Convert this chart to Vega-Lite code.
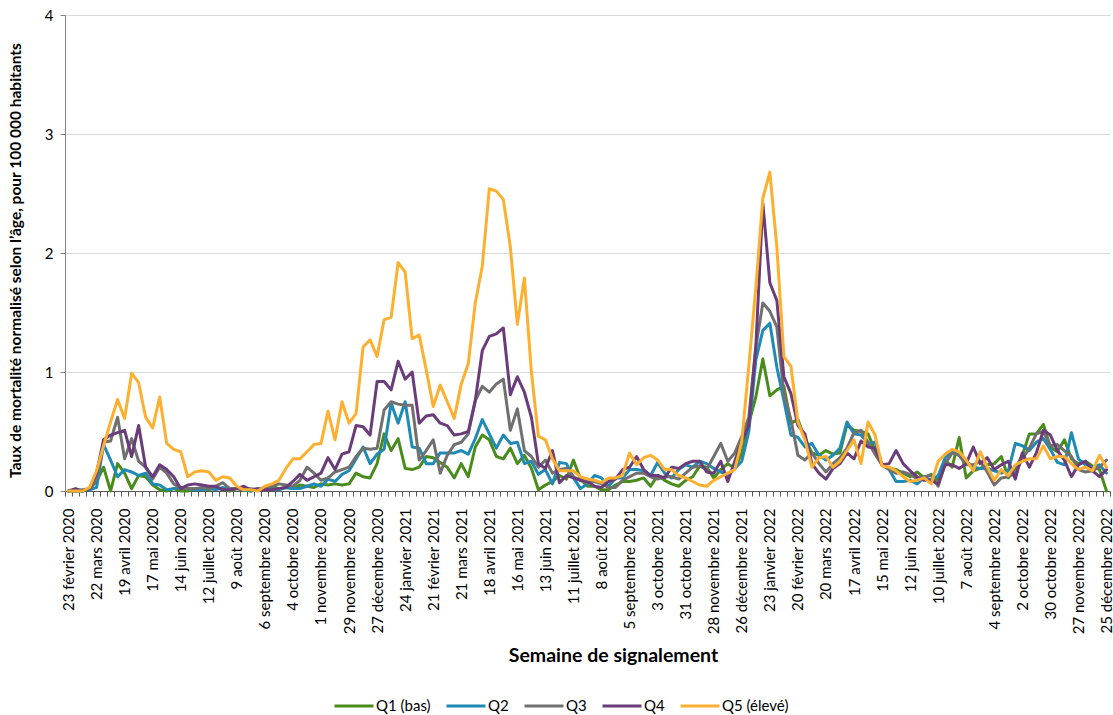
{
  "$schema": "https://vega.github.io/schema/vega-lite/v6.json",
  "width": 1045,
  "height": 476,
  "autosize": {"type": "none"},
  "padding": {"left": 65, "top": 15, "right": 3, "bottom": 224},
  "background": "white",
  "config": {"view": {"stroke": null}, "font": "Lato"},
  "data": {
    "values": [
      {"semaine": "2020-02-23", "Q1 (bas)": 0, "Q2": 0, "Q3": 0, "Q4": 0, "Q5 (élevé)": 0},
      {"semaine": "2020-03-01", "Q1 (bas)": 0, "Q2": 0, "Q3": 0, "Q4": 0.02, "Q5 (élevé)": 0},
      {"semaine": "2020-03-08", "Q1 (bas)": 0, "Q2": 0, "Q3": 0.01, "Q4": 0, "Q5 (élevé)": 0},
      {"semaine": "2020-03-15", "Q1 (bas)": 0.02, "Q2": 0.01, "Q3": 0.02, "Q4": 0.02, "Q5 (élevé)": 0.03},
      {"semaine": "2020-03-22", "Q1 (bas)": 0.08, "Q2": 0.03, "Q3": 0.10, "Q4": 0.15, "Q5 (élevé)": 0.17},
      {"semaine": "2020-03-29", "Q1 (bas)": 0.20, "Q2": 0.39, "Q3": 0.41, "Q4": 0.43, "Q5 (élevé)": 0.38},
      {"semaine": "2020-04-05", "Q1 (bas)": 0.0, "Q2": 0.26, "Q3": 0.42, "Q4": 0.47, "Q5 (élevé)": 0.58},
      {"semaine": "2020-04-12", "Q1 (bas)": 0.23, "Q2": 0.12, "Q3": 0.62, "Q4": 0.49, "Q5 (élevé)": 0.77},
      {"semaine": "2020-04-19", "Q1 (bas)": 0.15, "Q2": 0.18, "Q3": 0.27, "Q4": 0.51, "Q5 (élevé)": 0.61},
      {"semaine": "2020-04-26", "Q1 (bas)": 0.02, "Q2": 0.16, "Q3": 0.44, "Q4": 0.29, "Q5 (élevé)": 0.99},
      {"semaine": "2020-05-03", "Q1 (bas)": 0.13, "Q2": 0.13, "Q3": 0.25, "Q4": 0.55, "Q5 (élevé)": 0.91},
      {"semaine": "2020-05-10", "Q1 (bas)": 0.12, "Q2": 0.15, "Q3": 0.20, "Q4": 0.20, "Q5 (élevé)": 0.62},
      {"semaine": "2020-05-17", "Q1 (bas)": 0.05, "Q2": 0.06, "Q3": 0.10, "Q4": 0.12, "Q5 (élevé)": 0.53},
      {"semaine": "2020-05-24", "Q1 (bas)": 0.01, "Q2": 0.05, "Q3": 0.20, "Q4": 0.22, "Q5 (élevé)": 0.79},
      {"semaine": "2020-05-31", "Q1 (bas)": 0, "Q2": 0.01, "Q3": 0.15, "Q4": 0.18, "Q5 (élevé)": 0.40},
      {"semaine": "2020-06-07", "Q1 (bas)": 0.02, "Q2": 0.02, "Q3": 0.06, "Q4": 0.12, "Q5 (élevé)": 0.35},
      {"semaine": "2020-06-14", "Q1 (bas)": 0, "Q2": 0.03, "Q3": 0.02, "Q4": 0.02, "Q5 (élevé)": 0.33},
      {"semaine": "2020-06-21", "Q1 (bas)": 0, "Q2": 0.02, "Q3": 0.02, "Q4": 0.05, "Q5 (élevé)": 0.12},
      {"semaine": "2020-06-28", "Q1 (bas)": 0.02, "Q2": 0.01, "Q3": 0.02, "Q4": 0.06, "Q5 (élevé)": 0.16},
      {"semaine": "2020-07-05", "Q1 (bas)": 0.02, "Q2": 0.01, "Q3": 0.03, "Q4": 0.05, "Q5 (élevé)": 0.17},
      {"semaine": "2020-07-12", "Q1 (bas)": 0.01, "Q2": 0.02, "Q3": 0.02, "Q4": 0.04, "Q5 (élevé)": 0.16},
      {"semaine": "2020-07-19", "Q1 (bas)": 0.03, "Q2": 0.01, "Q3": 0.04, "Q4": 0.04, "Q5 (élevé)": 0.09},
      {"semaine": "2020-07-26", "Q1 (bas)": 0.01, "Q2": 0.03, "Q3": 0.07, "Q4": 0.01, "Q5 (élevé)": 0.12},
      {"semaine": "2020-08-02", "Q1 (bas)": 0, "Q2": 0.02, "Q3": 0.02, "Q4": 0.01, "Q5 (élevé)": 0.11},
      {"semaine": "2020-08-09", "Q1 (bas)": 0.02, "Q2": 0.02, "Q3": 0.02, "Q4": 0.02, "Q5 (élevé)": 0.04},
      {"semaine": "2020-08-16", "Q1 (bas)": 0.01, "Q2": 0.01, "Q3": 0.01, "Q4": 0.04, "Q5 (élevé)": 0.01},
      {"semaine": "2020-08-23", "Q1 (bas)": 0, "Q2": 0, "Q3": 0.02, "Q4": 0.01, "Q5 (élevé)": 0.01},
      {"semaine": "2020-08-30", "Q1 (bas)": 0.01, "Q2": 0.02, "Q3": 0.01, "Q4": 0.02, "Q5 (élevé)": 0.0},
      {"semaine": "2020-09-06", "Q1 (bas)": 0.03, "Q2": 0.01, "Q3": 0.03, "Q4": 0.01, "Q5 (élevé)": 0.04},
      {"semaine": "2020-09-13", "Q1 (bas)": 0.04, "Q2": 0.02, "Q3": 0.04, "Q4": 0.01, "Q5 (élevé)": 0.06},
      {"semaine": "2020-09-20", "Q1 (bas)": 0.02, "Q2": 0.01, "Q3": 0.06, "Q4": 0.02, "Q5 (élevé)": 0.09},
      {"semaine": "2020-09-27", "Q1 (bas)": 0.03, "Q2": 0.03, "Q3": 0.05, "Q4": 0.03, "Q5 (élevé)": 0.19},
      {"semaine": "2020-10-04", "Q1 (bas)": 0.02, "Q2": 0.02, "Q3": 0.04, "Q4": 0.08, "Q5 (élevé)": 0.27},
      {"semaine": "2020-10-11", "Q1 (bas)": 0.05, "Q2": 0.02, "Q3": 0.09, "Q4": 0.14, "Q5 (élevé)": 0.27},
      {"semaine": "2020-10-18", "Q1 (bas)": 0.04, "Q2": 0.04, "Q3": 0.20, "Q4": 0.09, "Q5 (élevé)": 0.33},
      {"semaine": "2020-10-25", "Q1 (bas)": 0.03, "Q2": 0.06, "Q3": 0.15, "Q4": 0.12, "Q5 (élevé)": 0.39},
      {"semaine": "2020-11-01", "Q1 (bas)": 0.06, "Q2": 0.04, "Q3": 0.09, "Q4": 0.15, "Q5 (élevé)": 0.40},
      {"semaine": "2020-11-08", "Q1 (bas)": 0.05, "Q2": 0.10, "Q3": 0.11, "Q4": 0.28, "Q5 (élevé)": 0.67},
      {"semaine": "2020-11-15", "Q1 (bas)": 0.06, "Q2": 0.08, "Q3": 0.16, "Q4": 0.18, "Q5 (élevé)": 0.43},
      {"semaine": "2020-11-22", "Q1 (bas)": 0.05, "Q2": 0.14, "Q3": 0.18, "Q4": 0.31, "Q5 (élevé)": 0.75},
      {"semaine": "2020-11-29", "Q1 (bas)": 0.06, "Q2": 0.17, "Q3": 0.20, "Q4": 0.33, "Q5 (élevé)": 0.57},
      {"semaine": "2020-12-06", "Q1 (bas)": 0.15, "Q2": 0.27, "Q3": 0.29, "Q4": 0.55, "Q5 (élevé)": 0.65},
      {"semaine": "2020-12-13", "Q1 (bas)": 0.12, "Q2": 0.37, "Q3": 0.36, "Q4": 0.54, "Q5 (élevé)": 1.21},
      {"semaine": "2020-12-20", "Q1 (bas)": 0.11, "Q2": 0.23, "Q3": 0.35, "Q4": 0.47, "Q5 (élevé)": 1.27},
      {"semaine": "2020-12-27", "Q1 (bas)": 0.23, "Q2": 0.31, "Q3": 0.36, "Q4": 0.92, "Q5 (élevé)": 1.13},
      {"semaine": "2021-01-03", "Q1 (bas)": 0.48, "Q2": 0.35, "Q3": 0.68, "Q4": 0.92, "Q5 (élevé)": 1.44},
      {"semaine": "2021-01-10", "Q1 (bas)": 0.34, "Q2": 0.74, "Q3": 0.75, "Q4": 0.85, "Q5 (élevé)": 1.46},
      {"semaine": "2021-01-17", "Q1 (bas)": 0.44, "Q2": 0.57, "Q3": 0.73, "Q4": 1.09, "Q5 (élevé)": 1.92},
      {"semaine": "2021-01-24", "Q1 (bas)": 0.19, "Q2": 0.75, "Q3": 0.72, "Q4": 0.94, "Q5 (élevé)": 1.84},
      {"semaine": "2021-01-31", "Q1 (bas)": 0.18, "Q2": 0.37, "Q3": 0.72, "Q4": 1.00, "Q5 (élevé)": 1.28},
      {"semaine": "2021-02-07", "Q1 (bas)": 0.20, "Q2": 0.36, "Q3": 0.26, "Q4": 0.57, "Q5 (élevé)": 1.31},
      {"semaine": "2021-02-14", "Q1 (bas)": 0.29, "Q2": 0.23, "Q3": 0.34, "Q4": 0.63, "Q5 (élevé)": 1.02},
      {"semaine": "2021-02-21", "Q1 (bas)": 0.28, "Q2": 0.23, "Q3": 0.43, "Q4": 0.64, "Q5 (élevé)": 0.71},
      {"semaine": "2021-02-28", "Q1 (bas)": 0.24, "Q2": 0.32, "Q3": 0.15, "Q4": 0.57, "Q5 (élevé)": 0.89},
      {"semaine": "2021-03-07", "Q1 (bas)": 0.20, "Q2": 0.32, "Q3": 0.30, "Q4": 0.55, "Q5 (élevé)": 0.75},
      {"semaine": "2021-03-14", "Q1 (bas)": 0.11, "Q2": 0.32, "Q3": 0.39, "Q4": 0.47, "Q5 (élevé)": 0.61},
      {"semaine": "2021-03-21", "Q1 (bas)": 0.23, "Q2": 0.34, "Q3": 0.41, "Q4": 0.48, "Q5 (élevé)": 0.90},
      {"semaine": "2021-03-28", "Q1 (bas)": 0.12, "Q2": 0.31, "Q3": 0.48, "Q4": 0.50, "Q5 (élevé)": 1.07},
      {"semaine": "2021-04-04", "Q1 (bas)": 0.37, "Q2": 0.44, "Q3": 0.76, "Q4": 0.76, "Q5 (élevé)": 1.58},
      {"semaine": "2021-04-11", "Q1 (bas)": 0.47, "Q2": 0.60, "Q3": 0.88, "Q4": 1.18, "Q5 (élevé)": 1.89},
      {"semaine": "2021-04-18", "Q1 (bas)": 0.43, "Q2": 0.48, "Q3": 0.83, "Q4": 1.30, "Q5 (élevé)": 2.54},
      {"semaine": "2021-04-25", "Q1 (bas)": 0.29, "Q2": 0.36, "Q3": 0.90, "Q4": 1.32, "Q5 (élevé)": 2.52},
      {"semaine": "2021-05-02", "Q1 (bas)": 0.27, "Q2": 0.47, "Q3": 0.94, "Q4": 1.37, "Q5 (élevé)": 2.45},
      {"semaine": "2021-05-09", "Q1 (bas)": 0.36, "Q2": 0.40, "Q3": 0.51, "Q4": 0.81, "Q5 (élevé)": 2.05},
      {"semaine": "2021-05-16", "Q1 (bas)": 0.23, "Q2": 0.41, "Q3": 0.69, "Q4": 0.96, "Q5 (élevé)": 1.40},
      {"semaine": "2021-05-23", "Q1 (bas)": 0.30, "Q2": 0.23, "Q3": 0.34, "Q4": 0.83, "Q5 (élevé)": 1.79},
      {"semaine": "2021-05-30", "Q1 (bas)": 0.19, "Q2": 0.25, "Q3": 0.29, "Q4": 0.62, "Q5 (élevé)": 1.00},
      {"semaine": "2021-06-06", "Q1 (bas)": 0.01, "Q2": 0.14, "Q3": 0.20, "Q4": 0.23, "Q5 (élevé)": 0.46},
      {"semaine": "2021-06-13", "Q1 (bas)": 0.05, "Q2": 0.18, "Q3": 0.26, "Q4": 0.19, "Q5 (élevé)": 0.43},
      {"semaine": "2021-06-20", "Q1 (bas)": 0.08, "Q2": 0.06, "Q3": 0.15, "Q4": 0.34, "Q5 (élevé)": 0.27},
      {"semaine": "2021-06-27", "Q1 (bas)": 0.13, "Q2": 0.24, "Q3": 0.18, "Q4": 0.07, "Q5 (élevé)": 0.17},
      {"semaine": "2021-07-04", "Q1 (bas)": 0.10, "Q2": 0.23, "Q3": 0.19, "Q4": 0.13, "Q5 (élevé)": 0.17},
      {"semaine": "2021-07-11", "Q1 (bas)": 0.26, "Q2": 0.11, "Q3": 0.12, "Q4": 0.11, "Q5 (élevé)": 0.17},
      {"semaine": "2021-07-18", "Q1 (bas)": 0.10, "Q2": 0.02, "Q3": 0.09, "Q4": 0.09, "Q5 (élevé)": 0.12},
      {"semaine": "2021-07-25", "Q1 (bas)": 0.04, "Q2": 0.06, "Q3": 0.07, "Q4": 0.08, "Q5 (élevé)": 0.10},
      {"semaine": "2021-08-01", "Q1 (bas)": 0.04, "Q2": 0.13, "Q3": 0.08, "Q4": 0.04, "Q5 (élevé)": 0.09},
      {"semaine": "2021-08-08", "Q1 (bas)": 0.01, "Q2": 0.11, "Q3": 0.06, "Q4": 0.03, "Q5 (élevé)": 0.07},
      {"semaine": "2021-08-15", "Q1 (bas)": 0.01, "Q2": 0.04, "Q3": 0.03, "Q4": 0.08, "Q5 (élevé)": 0.11},
      {"semaine": "2021-08-22", "Q1 (bas)": 0.05, "Q2": 0.11, "Q3": 0.03, "Q4": 0.10, "Q5 (élevé)": 0.11},
      {"semaine": "2021-08-29", "Q1 (bas)": 0.08, "Q2": 0.11, "Q3": 0.09, "Q4": 0.18, "Q5 (élevé)": 0.13},
      {"semaine": "2021-09-05", "Q1 (bas)": 0.08, "Q2": 0.18, "Q3": 0.12, "Q4": 0.20, "Q5 (élevé)": 0.32},
      {"semaine": "2021-09-12", "Q1 (bas)": 0.09, "Q2": 0.18, "Q3": 0.15, "Q4": 0.29, "Q5 (élevé)": 0.22},
      {"semaine": "2021-09-19", "Q1 (bas)": 0.11, "Q2": 0.17, "Q3": 0.15, "Q4": 0.18, "Q5 (élevé)": 0.28},
      {"semaine": "2021-09-26", "Q1 (bas)": 0.04, "Q2": 0.13, "Q3": 0.12, "Q4": 0.13, "Q5 (élevé)": 0.30},
      {"semaine": "2021-10-03", "Q1 (bas)": 0.13, "Q2": 0.24, "Q3": 0.10, "Q4": 0.13, "Q5 (élevé)": 0.26},
      {"semaine": "2021-10-10", "Q1 (bas)": 0.09, "Q2": 0.15, "Q3": 0.12, "Q4": 0.11, "Q5 (élevé)": 0.18},
      {"semaine": "2021-10-17", "Q1 (bas)": 0.06, "Q2": 0.11, "Q3": 0.12, "Q4": 0.20, "Q5 (élevé)": 0.18},
      {"semaine": "2021-10-24", "Q1 (bas)": 0.04, "Q2": 0.18, "Q3": 0.10, "Q4": 0.19, "Q5 (élevé)": 0.13},
      {"semaine": "2021-10-31", "Q1 (bas)": 0.09, "Q2": 0.22, "Q3": 0.15, "Q4": 0.23, "Q5 (élevé)": 0.11},
      {"semaine": "2021-11-07", "Q1 (bas)": 0.12, "Q2": 0.20, "Q3": 0.20, "Q4": 0.25, "Q5 (élevé)": 0.08},
      {"semaine": "2021-11-14", "Q1 (bas)": 0.21, "Q2": 0.25, "Q3": 0.21, "Q4": 0.25, "Q5 (élevé)": 0.05},
      {"semaine": "2021-11-21", "Q1 (bas)": 0.20, "Q2": 0.23, "Q3": 0.18, "Q4": 0.16, "Q5 (élevé)": 0.04},
      {"semaine": "2021-11-28", "Q1 (bas)": 0.11, "Q2": 0.19, "Q3": 0.29, "Q4": 0.15, "Q5 (élevé)": 0.09},
      {"semaine": "2021-12-05", "Q1 (bas)": 0.18, "Q2": 0.16, "Q3": 0.40, "Q4": 0.25, "Q5 (élevé)": 0.12},
      {"semaine": "2021-12-12", "Q1 (bas)": 0.23, "Q2": 0.13, "Q3": 0.25, "Q4": 0.08, "Q5 (élevé)": 0.15},
      {"semaine": "2021-12-19", "Q1 (bas)": 0.19, "Q2": 0.19, "Q3": 0.32, "Q4": 0.25, "Q5 (élevé)": 0.18},
      {"semaine": "2021-12-26", "Q1 (bas)": 0.32, "Q2": 0.25, "Q3": 0.46, "Q4": 0.42, "Q5 (élevé)": 0.42},
      {"semaine": "2022-01-02", "Q1 (bas)": 0.57, "Q2": 0.50, "Q3": 0.62, "Q4": 0.55, "Q5 (élevé)": 1.05},
      {"semaine": "2022-01-09", "Q1 (bas)": 0.79, "Q2": 1.10, "Q3": 1.21, "Q4": 1.21, "Q5 (élevé)": 1.71},
      {"semaine": "2022-01-16", "Q1 (bas)": 1.11, "Q2": 1.35, "Q3": 1.58, "Q4": 2.42, "Q5 (élevé)": 2.46},
      {"semaine": "2022-01-23", "Q1 (bas)": 0.80, "Q2": 1.41, "Q3": 1.51, "Q4": 1.75, "Q5 (élevé)": 2.68},
      {"semaine": "2022-01-30", "Q1 (bas)": 0.85, "Q2": 1.04, "Q3": 1.38, "Q4": 1.60, "Q5 (élevé)": 2.05},
      {"semaine": "2022-02-06", "Q1 (bas)": 0.88, "Q2": 0.76, "Q3": 0.82, "Q4": 0.96, "Q5 (élevé)": 1.13},
      {"semaine": "2022-02-13", "Q1 (bas)": 0.57, "Q2": 0.47, "Q3": 0.60, "Q4": 0.82, "Q5 (élevé)": 1.05},
      {"semaine": "2022-02-20", "Q1 (bas)": 0.60, "Q2": 0.45, "Q3": 0.30, "Q4": 0.55, "Q5 (élevé)": 0.58},
      {"semaine": "2022-02-27", "Q1 (bas)": 0.44, "Q2": 0.37, "Q3": 0.26, "Q4": 0.48, "Q5 (élevé)": 0.43},
      {"semaine": "2022-03-06", "Q1 (bas)": 0.32, "Q2": 0.40, "Q3": 0.32, "Q4": 0.23, "Q5 (élevé)": 0.20},
      {"semaine": "2022-03-13", "Q1 (bas)": 0.30, "Q2": 0.30, "Q3": 0.23, "Q4": 0.15, "Q5 (élevé)": 0.28},
      {"semaine": "2022-03-20", "Q1 (bas)": 0.34, "Q2": 0.26, "Q3": 0.16, "Q4": 0.10, "Q5 (élevé)": 0.29},
      {"semaine": "2022-03-27", "Q1 (bas)": 0.31, "Q2": 0.30, "Q3": 0.23, "Q4": 0.19, "Q5 (élevé)": 0.20},
      {"semaine": "2022-04-03", "Q1 (bas)": 0.32, "Q2": 0.36, "Q3": 0.28, "Q4": 0.23, "Q5 (élevé)": 0.25},
      {"semaine": "2022-04-10", "Q1 (bas)": 0.56, "Q2": 0.58, "Q3": 0.36, "Q4": 0.32, "Q5 (élevé)": 0.34},
      {"semaine": "2022-04-17", "Q1 (bas)": 0.51, "Q2": 0.48, "Q3": 0.49, "Q4": 0.27, "Q5 (élevé)": 0.43},
      {"semaine": "2022-04-24", "Q1 (bas)": 0.50, "Q2": 0.47, "Q3": 0.51, "Q4": 0.42, "Q5 (élevé)": 0.23},
      {"semaine": "2022-05-01", "Q1 (bas)": 0.48, "Q2": 0.40, "Q3": 0.41, "Q4": 0.37, "Q5 (élevé)": 0.58},
      {"semaine": "2022-05-08", "Q1 (bas)": 0.34, "Q2": 0.41, "Q3": 0.31, "Q4": 0.36, "Q5 (élevé)": 0.47},
      {"semaine": "2022-05-15", "Q1 (bas)": 0.22, "Q2": 0.22, "Q3": 0.22, "Q4": 0.22, "Q5 (élevé)": 0.21},
      {"semaine": "2022-05-22", "Q1 (bas)": 0.19, "Q2": 0.18, "Q3": 0.18, "Q4": 0.23, "Q5 (élevé)": 0.20},
      {"semaine": "2022-05-29", "Q1 (bas)": 0.18, "Q2": 0.08, "Q3": 0.15, "Q4": 0.34, "Q5 (élevé)": 0.17},
      {"semaine": "2022-06-05", "Q1 (bas)": 0.15, "Q2": 0.08, "Q3": 0.16, "Q4": 0.23, "Q5 (élevé)": 0.12},
      {"semaine": "2022-06-12", "Q1 (bas)": 0.12, "Q2": 0.09, "Q3": 0.14, "Q4": 0.17, "Q5 (élevé)": 0.08},
      {"semaine": "2022-06-19", "Q1 (bas)": 0.16, "Q2": 0.06, "Q3": 0.10, "Q4": 0.12, "Q5 (élevé)": 0.09},
      {"semaine": "2022-06-26", "Q1 (bas)": 0.11, "Q2": 0.11, "Q3": 0.12, "Q4": 0.09, "Q5 (élevé)": 0.11},
      {"semaine": "2022-07-03", "Q1 (bas)": 0.14, "Q2": 0.09, "Q3": 0.13, "Q4": 0.09, "Q5 (élevé)": 0.06},
      {"semaine": "2022-07-10", "Q1 (bas)": 0.09, "Q2": 0.13, "Q3": 0.04, "Q4": 0.06, "Q5 (élevé)": 0.25},
      {"semaine": "2022-07-17", "Q1 (bas)": 0.26, "Q2": 0.28, "Q3": 0.23, "Q4": 0.22, "Q5 (élevé)": 0.31},
      {"semaine": "2022-07-24", "Q1 (bas)": 0.20, "Q2": 0.33, "Q3": 0.32, "Q4": 0.22, "Q5 (élevé)": 0.35},
      {"semaine": "2022-07-31", "Q1 (bas)": 0.45, "Q2": 0.30, "Q3": 0.30, "Q4": 0.19, "Q5 (élevé)": 0.33},
      {"semaine": "2022-08-07", "Q1 (bas)": 0.11, "Q2": 0.25, "Q3": 0.22, "Q4": 0.23, "Q5 (élevé)": 0.26},
      {"semaine": "2022-08-14", "Q1 (bas)": 0.17, "Q2": 0.20, "Q3": 0.22, "Q4": 0.37, "Q5 (élevé)": 0.17},
      {"semaine": "2022-08-21", "Q1 (bas)": 0.19, "Q2": 0.19, "Q3": 0.25, "Q4": 0.23, "Q5 (élevé)": 0.33},
      {"semaine": "2022-08-28", "Q1 (bas)": 0.22, "Q2": 0.19, "Q3": 0.16, "Q4": 0.28, "Q5 (élevé)": 0.20},
      {"semaine": "2022-09-04", "Q1 (bas)": 0.23, "Q2": 0.17, "Q3": 0.05, "Q4": 0.18, "Q5 (élevé)": 0.09},
      {"semaine": "2022-09-11", "Q1 (bas)": 0.29, "Q2": 0.15, "Q3": 0.11, "Q4": 0.22, "Q5 (élevé)": 0.18},
      {"semaine": "2022-09-18", "Q1 (bas)": 0.11, "Q2": 0.17, "Q3": 0.12, "Q4": 0.25, "Q5 (élevé)": 0.13},
      {"semaine": "2022-09-25", "Q1 (bas)": 0.19, "Q2": 0.40, "Q3": 0.15, "Q4": 0.10, "Q5 (élevé)": 0.22},
      {"semaine": "2022-10-02", "Q1 (bas)": 0.30, "Q2": 0.38, "Q3": 0.27, "Q4": 0.32, "Q5 (élevé)": 0.25},
      {"semaine": "2022-10-09", "Q1 (bas)": 0.48, "Q2": 0.34, "Q3": 0.36, "Q4": 0.20, "Q5 (élevé)": 0.27},
      {"semaine": "2022-10-16", "Q1 (bas)": 0.48, "Q2": 0.41, "Q3": 0.48, "Q4": 0.32, "Q5 (élevé)": 0.27},
      {"semaine": "2022-10-23", "Q1 (bas)": 0.56, "Q2": 0.44, "Q3": 0.50, "Q4": 0.51, "Q5 (élevé)": 0.38},
      {"semaine": "2022-10-30", "Q1 (bas)": 0.37, "Q2": 0.35, "Q3": 0.38, "Q4": 0.47, "Q5 (élevé)": 0.27},
      {"semaine": "2022-11-06", "Q1 (bas)": 0.33, "Q2": 0.24, "Q3": 0.39, "Q4": 0.34, "Q5 (élevé)": 0.29},
      {"semaine": "2022-11-13", "Q1 (bas)": 0.43, "Q2": 0.22, "Q3": 0.34, "Q4": 0.26, "Q5 (élevé)": 0.29},
      {"semaine": "2022-11-20", "Q1 (bas)": 0.27, "Q2": 0.49, "Q3": 0.29, "Q4": 0.12, "Q5 (élevé)": 0.23},
      {"semaine": "2022-11-27", "Q1 (bas)": 0.23, "Q2": 0.27, "Q3": 0.18, "Q4": 0.22, "Q5 (élevé)": 0.18},
      {"semaine": "2022-12-04", "Q1 (bas)": 0.25, "Q2": 0.22, "Q3": 0.16, "Q4": 0.25, "Q5 (élevé)": 0.20},
      {"semaine": "2022-12-11", "Q1 (bas)": 0.21, "Q2": 0.20, "Q3": 0.17, "Q4": 0.17, "Q5 (élevé)": 0.17},
      {"semaine": "2022-12-18", "Q1 (bas)": 0.18, "Q2": 0.22, "Q3": 0.20, "Q4": 0.12, "Q5 (élevé)": 0.30},
      {"semaine": "2022-12-25", "Q1 (bas)": 0.0, "Q2": 0.15, "Q3": 0.26, "Q4": 0.18, "Q5 (élevé)": 0.20}
    ]
  },
  "transform": [
    {"fold": ["Q1 (bas)", "Q2", "Q3", "Q4", "Q5 (élevé)"], "as": ["quintile", "taux"]}
  ],
  "mark": {"type": "line", "strokeWidth": 3, "strokeJoin": "round", "strokeCap": "round"},
  "encoding": {
    "x": {
      "field": "semaine",
      "type": "ordinal",
      "bandPosition": 0.5,
      "scale": {"type": "band", "paddingInner": 0, "paddingOuter": 0},
      "axis": {
        "title": "Semaine de signalement",
        "titleFont": "Lato",
        "titleFontSize": 19.5,
        "titleFontWeight": "bold",
        "titleColor": "#000000",
        "titleX": 548,
        "titleY": 164,
        "titleAlign": "center",
        "titleBaseline": "middle",
        "labelAngle": -90,
        "labelAlign": "right",
        "labelBaseline": "middle",
        "labelFont": "Lato",
        "labelFontSize": 15,
        "labelColor": "#000000",
        "labelPadding": 12,
        "labelOverlap": false,
        "labelFlush": false,
        "labelBound": false,
        "labelExpr": "(toDate(datum.value) - toDate('2020-02-23')) % (28 * 86400000) == 0 ? (parseInt(slice(datum.value, 8, 10)) + ' ' + ['janvier', 'février', 'mars', 'avril', 'mai', 'juin', 'juillet', 'août', 'septembre', 'octobre', 'novembre', 'décembre'][parseInt(slice(datum.value, 5, 7)) - 1] + ' ' + slice(datum.value, 0, 4)) : ''",
        "tickBand": "extent",
        "tickSize": 5,
        "tickColor": "#595959",
        "domainColor": "#595959",
        "grid": false
      }
    },
    "y": {
      "field": "taux",
      "type": "quantitative",
      "scale": {"domain": [0, 4], "nice": false},
      "axis": {
        "title": "Taux de mortalité normalisé selon l’âge, pour 100 000 habitants",
        "titleFont": "Lato",
        "titleFontSize": 15.5,
        "titleFontWeight": "bold",
        "titleColor": "#000000",
        "titleX": -50,
        "titleY": 245,
        "titleAngle": -90,
        "titleAlign": "center",
        "titleBaseline": "middle",
        "values": [0, 1, 2, 3, 4],
        "format": "d",
        "labelFont": "Lato",
        "labelFontSize": 15,
        "labelColor": "#000000",
        "labelPadding": 7,
        "tickSize": 5,
        "tickColor": "#868686",
        "domainColor": "#868686",
        "gridColor": "#d9d9d9",
        "gridWidth": 1
      }
    },
    "color": {
      "field": "quintile",
      "type": "nominal",
      "scale": {
        "domain": ["Q1 (bas)", "Q2", "Q3", "Q4", "Q5 (élevé)"],
        "range": ["#4a8c1c", "#1f8ab5", "#707070", "#6a3d7a", "#fdb030"]
      },
      "legend": {
        "orient": "none",
        "direction": "horizontal",
        "legendX": 268,
        "legendY": 670,
        "title": null,
        "symbolType": "stroke",
        "symbolSize": 1521,
        "symbolStrokeWidth": 3,
        "labelFont": "Lato",
        "labelFontSize": 15,
        "labelColor": "#000000",
        "labelOffset": 1,
        "columnPadding": 9,
        "padding": 0
      }
    }
  }
}
